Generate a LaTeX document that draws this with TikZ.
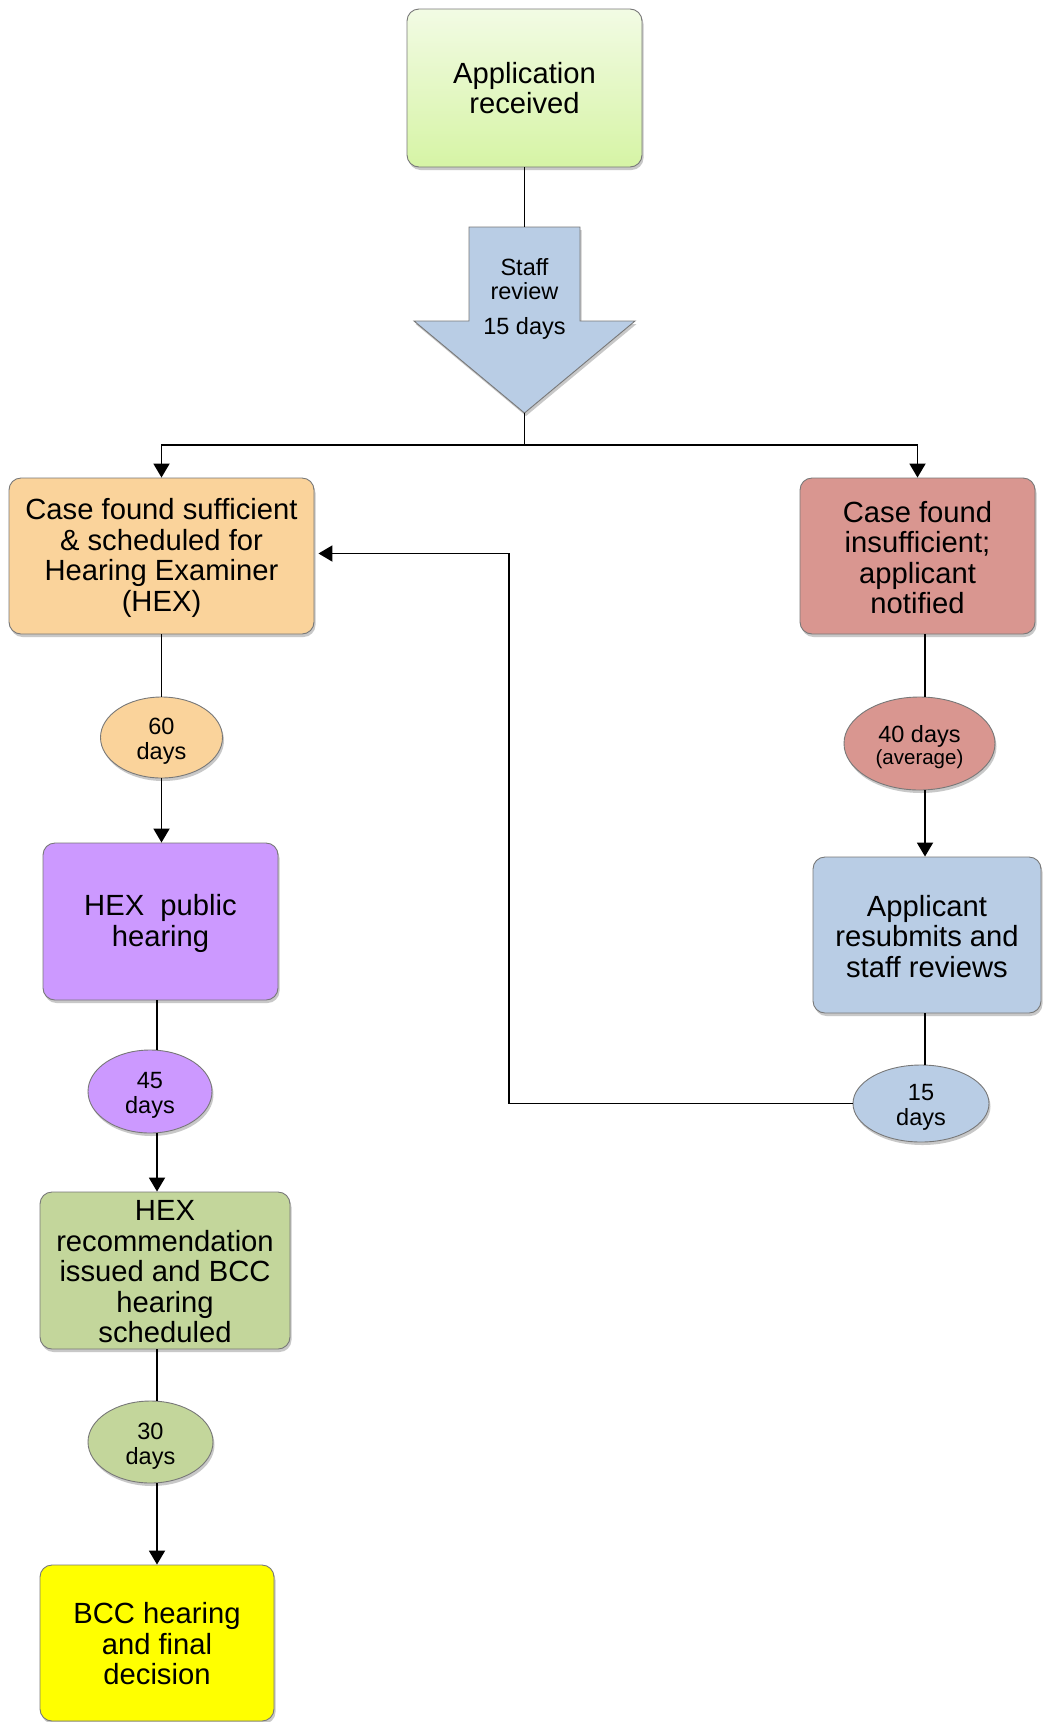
\documentclass[tikz,border=0pt]{standalone}
\usepackage{fontspec}
\setmainfont{Liberation Sans}
\usetikzlibrary{shapes.geometric, arrows.meta, shadows}
\definecolor{appTop}{RGB}{242,251,228}
\definecolor{appBot}{RGB}{214,244,165}
\definecolor{blueF}{RGB}{185,205,229}
\definecolor{orangeF}{RGB}{250,211,155}
\definecolor{redF}{RGB}{217,150,144}
\definecolor{purpleF}{RGB}{204,153,255}
\definecolor{greenF}{RGB}{195,214,155}
\definecolor{yellowF}{RGB}{255,255,0}
\definecolor{edgeC}{RGB}{120,120,120}
\newcommand{\upgap}[1]{\rule{0pt}{#1}}
\begin{document}
\begin{tikzpicture}[x=1pt, y=-1pt,
  shad/.style={drop shadow={shadow xshift=1.5pt, shadow yshift=-3pt, opacity=0.3, fill=black!70}},
  box/.style={draw=edgeC, line width=0.9pt, rounded corners=12pt, align=center,
    inner sep=0pt, font=\fontsize{29.2}{30.5}\selectfont, shad},
  oval/.style={ellipse, draw=edgeC, line width=0.9pt, inner sep=0pt, align=center,
    font=\fontsize{23.5}{25}\selectfont, shad},
  conn/.style={line width=1.9pt, draw=black},
  arr/.style={conn, -{Triangle[length=14pt,width=16pt]}}
]
\useasboundingbox (0,0) rectangle (1042,1722);
\fill[white] (0,0) rectangle (1042,1722);

% top
\node[box, top color=appTop, bottom color=appBot, minimum width=235pt, minimum height=158pt] (app) at (524.5,88) {Application\\received};

\coordinate (stTop) at (524.5,227);
\coordinate (stTip) at (524.5,413);
\draw[fill=blueF, draw=edgeC, line width=0.9pt, shad]
  (469,227) -- (580,227) -- (580,321) -- (635,321) -- (stTip) -- (414,321) -- (469,321) -- cycle;
\node[font=\fontsize{23.5}{23.3}\selectfont, align=center, inner sep=0pt] (staff) at (524.5,279) {Staff\\review};
\node[font=\fontsize{23.5}{25}\selectfont, inner sep=0pt] (stdays) at (524.5,328) {15 days};

\coordinate (split) at (524.5,445);

% left column
\node[box, fill=orangeF, minimum width=305pt, minimum height=156pt] (suff) at (161.5,556)
  {\upgap{25.5pt}Case found sufficient\\\& scheduled for\\Hearing Examiner\\(HEX)};
\node[oval, fill=orangeF, minimum width=122pt, minimum height=81pt] (d60) at (161.5,737.5) {\upgap{24.5pt}60\\days};
\node[box, fill=purpleF, minimum width=235pt, minimum height=157pt] (hexp) at (160.5,921.5) {\upgap{25pt}HEX\ \ public\\hearing};
\node[oval, fill=purpleF, minimum width=124pt, minimum height=83pt] (d45) at (150,1091.5) {\upgap{24.5pt}45\\days};
\node[box, fill=greenF, minimum width=250pt, minimum height=157pt] (hexr) at (165,1270.5)
  {\upgap{23pt}HEX\\recommendation\\issued and BCC\\hearing\\scheduled};
\node[oval, fill=greenF, minimum width=125pt, minimum height=82pt] (d30) at (150.5,1442) {\upgap{24pt}30\\days};
\node[box, fill=yellowF, minimum width=234pt, minimum height=156pt] (bcc) at (157,1643) {\upgap{23pt}BCC hearing\\and final\\decision};

% right column
\node[box, fill=redF, minimum width=235pt, minimum height=156pt] (insuf) at (917.5,556)
  {\upgap{24pt}Case found\\insufficient;\\applicant\\notified};
\node[oval, fill=redF, minimum width=151pt, minimum height=93pt] (d40) at (919.5,743.5)
  {\upgap{23.5pt}40 days\\[-3pt]{\fontsize{20.5}{22}\selectfont (average)}};
\node[box, fill=blueF, minimum width=228pt, minimum height=156pt] (appl) at (927,935)
  {\upgap{23.5pt}Applicant\\resubmits and\\staff reviews};
\node[oval, fill=blueF, minimum width=136pt, minimum height=77pt] (d15) at (921,1103.5) {\upgap{23.5pt}15\\days};

\coordinate (lx) at (157,0);
\coordinate (rx) at (925,0);
\coordinate (fb) at (509,0);
\coordinate (suffIn) at ([yshift=2.5pt]suff.east);

% connectors
\draw[conn] (app.south) -- (stTop);
\draw[conn] (stTip) -- (split);
\draw[arr] (split) -| (suff.north);
\draw[arr] (split) -| (insuf.north);

\draw[conn] (suff.south) -- (d60.north);
\draw[arr] (d60.south) -- (hexp.north -| d60.south);
\draw[conn] (hexp.south -| lx) -- (d45.north -| lx);
\draw[arr] (d45.south -| lx) -- (hexr.north -| lx);
\draw[conn] (hexr.south -| lx) -- (d30.north -| lx);
\draw[arr] (d30.south -| lx) -- (bcc.north -| lx);

\draw[conn] (insuf.south -| rx) -- (d40.north -| rx);
\draw[arr] (d40.south -| rx) -- (appl.north -| rx);
\draw[conn] (appl.south -| rx) -- (d15.north -| rx);

\draw[arr, shorten >=4pt] (d15.west) -- (d15.west -| fb) -- (fb |- suffIn) -- (suffIn);
\end{tikzpicture}
\end{document}
